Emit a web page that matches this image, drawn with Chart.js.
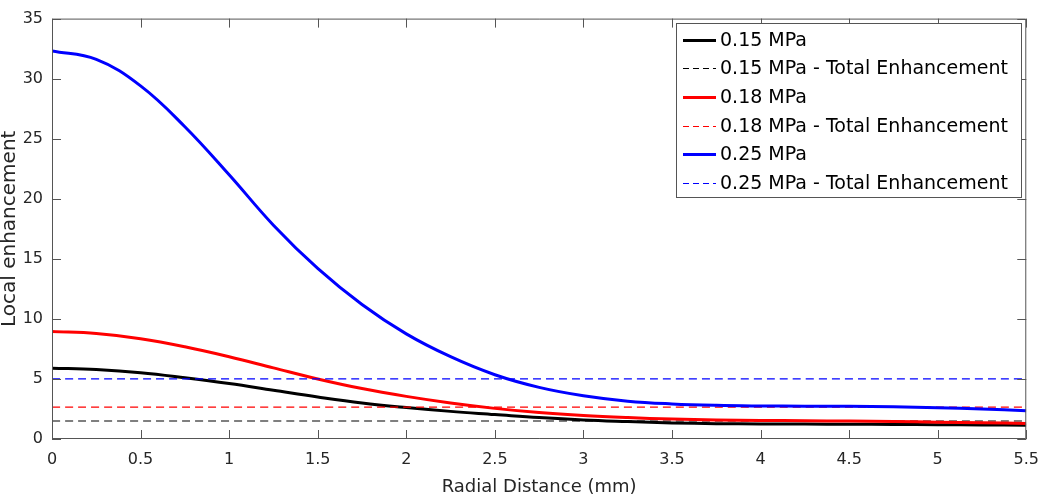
<!DOCTYPE html>
<html lang="en">
<head>
  <meta charset="UTF-8">
  <title>Local enhancement vs radial distance</title>
  <script src="https://cdn.jsdelivr.net/npm/chart.js"></script>
  <style>
    html, body { margin: 0; padding: 0; background: #fff; }
    #wrap { width: 1050px; height: 498px; }
  </style>
</head>
<body>
  <div id="wrap"><canvas id="grafico"></canvas></div>
  <script>
    // radial distance (mm)
    const radial = [0, 0.25, 0.5, 0.75, 1, 1.25, 1.5, 1.75, 2, 2.25, 2.5, 2.75,
                    3, 3.25, 3.5, 3.75, 4, 4.25, 4.5, 4.75, 5, 5.25, 5.5];

    // local enhancement curves
    const mpa015 = [5.9, 5.78, 5.52, 5.1, 4.62, 4.06, 3.5, 3.0, 2.62, 2.3, 2.04, 1.78,
                    1.58, 1.45, 1.34, 1.28, 1.25, 1.24, 1.23, 1.21, 1.19, 1.17, 1.15];
    const mpa018 = [8.95, 8.78, 8.35, 7.68, 6.85, 5.92, 5.0, 4.2, 3.55, 3.0, 2.55, 2.2,
                    1.95, 1.78, 1.66, 1.59, 1.55, 1.52, 1.49, 1.45, 1.4, 1.35, 1.3];
    const mpa025 = [32.3, 31.6, 29.4, 26.0, 22.0, 17.8, 14.2, 11.2, 8.75, 6.85, 5.35, 4.3,
                    3.6, 3.15, 2.92, 2.8, 2.75, 2.73, 2.72, 2.68, 2.6, 2.5, 2.35];

    // total enhancement (constant levels)
    const totalEnh = { '0.15': 1.5, '0.18': 2.65, '0.25': 5.0 };

    const xTicks = [0, 0.5, 1, 1.5, 2, 2.5, 3, 3.5, 4, 4.5, 5, 5.5];
    const yTicks = [0, 5, 10, 15, 20, 25, 30, 35];

    const corTexto = '#262626';
    const fonte = "'DejaVu Sans', 'Liberation Sans', Arial, sans-serif";

    function pontos(valores) {
      return radial.map((x, i) => ({ x: x, y: valores[i] }));
    }
    function constante(v) {
      return [{ x: radial[0], y: v }, { x: radial[radial.length - 1], y: v }];
    }

    const series = [
      { label: '0.15 MPa', data: pontos(mpa015), borderColor: '#000000', borderWidth: 3 },
      { label: '0.15 MPa - Total Enhancement', data: constante(totalEnh['0.15']), borderColor: '#000000', borderWidth: 1.2, borderDash: [8, 5] },
      { label: '0.18 MPa', data: pontos(mpa018), borderColor: '#ff0000', borderWidth: 3 },
      { label: '0.18 MPa - Total Enhancement', data: constante(totalEnh['0.18']), borderColor: '#ff0000', borderWidth: 1.2, borderDash: [8, 5] },
      { label: '0.25 MPa', data: pontos(mpa025), borderColor: '#0000ff', borderWidth: 3 },
      { label: '0.25 MPa - Total Enhancement', data: constante(totalEnh['0.25']), borderColor: '#0000ff', borderWidth: 1.2, borderDash: [8, 5] }
    ];
    // later series on top, like the original plot
    series.forEach((s, i) => {
      s.order = series.length - i;
      s.pointRadius = 0;
      s.fill = false;
      s.tension = 0.4;
    });

    // box around the plot with inward ticks on all four sides
    const caixaPlugin = {
      id: 'caixa',
      afterDatasetsDraw(chart) {
        const { ctx, chartArea: a, scales } = chart;
        const tl = 9;
        ctx.save();
        ctx.strokeStyle = '#555555';
        ctx.lineWidth = 1;
        ctx.beginPath();
        ctx.rect(a.left + 0.5, a.top + 0.5, a.right - a.left - 1, a.bottom - a.top - 1);
        xTicks.forEach(v => {
          const px = Math.round(scales.x.getPixelForValue(v)) + 0.5;
          ctx.moveTo(px, a.bottom); ctx.lineTo(px, a.bottom - tl);
          ctx.moveTo(px, a.top); ctx.lineTo(px, a.top + tl);
        });
        yTicks.forEach(v => {
          const py = Math.round(scales.y.getPixelForValue(v)) + 0.5;
          ctx.moveTo(a.left, py); ctx.lineTo(a.left + tl, py);
          ctx.moveTo(a.right, py); ctx.lineTo(a.right - tl, py);
        });
        ctx.stroke();
        ctx.restore();
      }
    };

    // legend box in the upper right, drawn by hand
    const legendaPlugin = {
      id: 'legenda',
      afterDraw(chart) {
        const { ctx } = chart;
        const x0 = 676, y0 = 23, w = 345, h = 174;
        const passo = 28.7;
        ctx.save();
        ctx.fillStyle = '#ffffff';
        ctx.fillRect(x0, y0, w, h);
        ctx.strokeStyle = '#555555';
        ctx.lineWidth = 1;
        ctx.strokeRect(x0 + 0.5, y0 + 0.5, w, h);
        ctx.font = '19px ' + fonte;
        ctx.textBaseline = 'middle';
        ctx.textAlign = 'left';
        chart.data.datasets.forEach((ds, i) => {
          const yc = Math.round(y0 + 16.5 + i * passo) + 0.5;
          ctx.beginPath();
          ctx.strokeStyle = ds.borderColor;
          ctx.lineWidth = ds.borderWidth > 2 ? ds.borderWidth : 1;
          ctx.setLineDash(ds.borderDash ? [6, 4] : []);
          ctx.moveTo(683, yc);
          ctx.lineTo(716, yc);
          ctx.stroke();
          ctx.setLineDash([]);
          ctx.fillStyle = '#000000';
          ctx.fillText(ds.label, 720, yc + 1);
        });
        ctx.restore();
      }
    };

    new Chart(document.getElementById('grafico'), {
      type: 'line',
      data: { datasets: series },
      options: {
        responsive: true,
        maintainAspectRatio: false,
        animation: false,
        layout: { padding: { top: 7, right: 13, left: 0, bottom: 0 } },
        plugins: {
          legend: { display: false },
          tooltip: { enabled: false }
        },
        scales: {
          x: {
            type: 'linear',
            min: 0,
            max: 5.5,
            afterBuildTicks: s => { s.ticks = xTicks.map(v => ({ value: v })); },
            afterFit: s => { s.height = 59; },
            grid: { display: false, drawTicks: false },
            border: { display: false },
            ticks: {
              padding: 11,
              color: corTexto,
              font: { family: fonte, size: 16 },
              maxRotation: 0,
              autoSkip: false,
              callback: v => String(v)
            },
            title: {
              display: true,
              text: 'Radial Distance (mm)',
              color: corTexto,
              font: { family: fonte, size: 18 },
              padding: 0
            }
          },
          y: {
            min: 0,
            max: 35,
            afterBuildTicks: s => { s.ticks = yTicks.map(v => ({ value: v })); },
            afterFit: s => { s.width = 52; },
            grid: { display: false, drawTicks: false },
            border: { display: false },
            ticks: {
              padding: 9,
              color: corTexto,
              font: { family: fonte, size: 16 },
              autoSkip: false,
              callback: v => String(v)
            },
            title: {
              display: true,
              text: 'Local enhancement',
              color: corTexto,
              font: { family: fonte, size: 20, lineHeight: 1.0 },
              padding: 0
            }
          }
        }
      },
      plugins: [caixaPlugin, legendaPlugin]
    });
  </script>
</body>
</html>
